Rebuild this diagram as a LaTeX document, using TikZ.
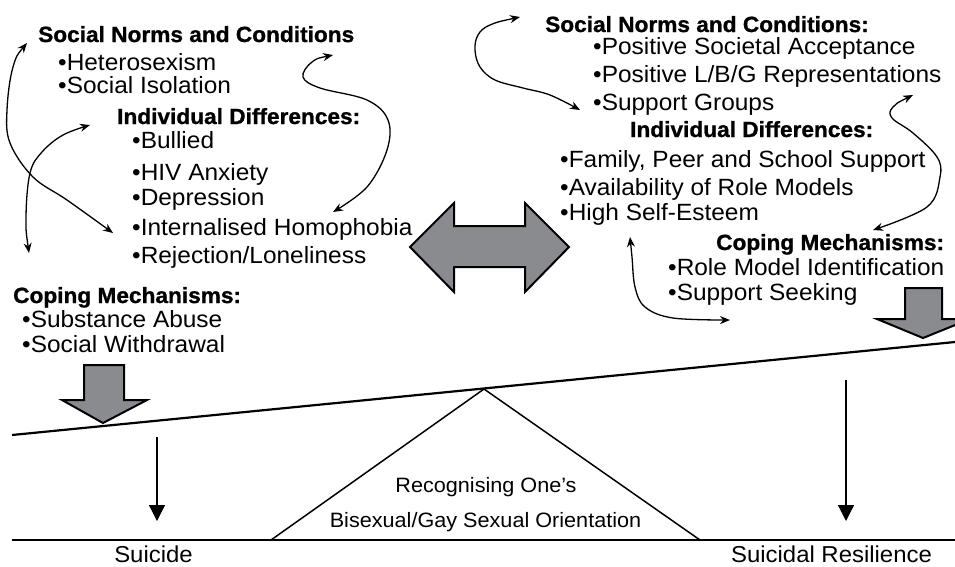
\documentclass[tikz,border=0pt]{standalone}
\usepackage{fontspec}
\setmainfont{Liberation Sans}
\newfontfamily\regf[FakeStretch=1.04]{Liberation Sans}
\newfontfamily\bldf[FakeStretch=1.03,FakeBold=1]{Liberation Sans Bold}
\newfontfamily\botf[FakeStretch=1.04]{Liberation Sans}
\usetikzlibrary{arrows.meta}
\definecolor{arrowgray}{RGB}{138,139,143}
\begin{document}
\begin{tikzpicture}[x=1pt,y=-1pt,
  reg/.style={anchor=base west,inner sep=0pt,font=\regf\fontsize{23.5}{26}\selectfont},
  hd/.style={anchor=base west,inner sep=0pt,font=\bldf\fontsize{22}{25}\selectfont},
  bot/.style={anchor=base,inner sep=0pt,font=\botf\fontsize{20.8}{24}\selectfont},
  lbl/.style={anchor=base,inner sep=0pt,font=\botf\fontsize{23}{26}\selectfont},
  link/.style={line width=1.3pt,{Stealth[length=10pt,width=8pt]}-{Stealth[length=10pt,width=8pt]}},
  fat/.style={draw=black,line width=2pt,fill=arrowgray,line join=miter},
  thin/.style={line width=1.2pt,-{Triangle[length=16pt,width=16pt]}}
  ]
\useasboundingbox (0,0) rectangle (955,566);
\fill[white] (0,0) rectangle (955,566);

% left column
\node[hd]  (lsn)  at (38,42)  {Social Norms and Conditions};
\node[reg] (lh)   at (58,70)  {•Heterosexism};
\node[reg] (lsi)  at (58,93)  {•Social Isolation};
\node[hd]  (lid)  at (117,124) {Individual Differences:};
\node[reg] (lb)   at (132,148) {•Bullied};
\node[reg] (lhiv) at (132,180) {•HIV Anxiety};
\node[reg] (ldep) at (132,205) {•Depression};
\node[reg] (lih)  at (132,235) {•Internalised Homophobia};
\node[reg] (lrl)  at (132,263) {•Rejection/Loneliness};
\node[hd]  (lcm)  at (13,303) {Coping Mechanisms:};
\node[reg] (lsa)  at (22,327) {•Substance Abuse};
\node[reg] (lsw)  at (22,352) {•Social Withdrawal};

% right column
\node[hd]  (rsn)  at (545,32)  {Social Norms and Conditions:};
\node[reg] (rpsa) at (593,54)  {•Positive Societal Acceptance};
\node[reg] (rpr)  at (593,82)  {•Positive L/B/G Representations};
\node[reg] (rsg)  at (593,110) {•Support Groups};
\node[hd]  (rid)  at (630,137) {Individual Differences:};
\node[reg] (rfp)  at (560,167) {•Family, Peer and School Support};
\node[reg] (rav)  at (560,195) {•Availability of Role Models};
\node[reg] (rhs)  at (560,220) {•High Self-Esteem};
\node[hd]  (rcm)  at (716,250) {Coping Mechanisms:};
\node[reg] (rrm)  at (668,275) {•Role Model Identification};
\node[reg] (rss)  at (668,300) {•Support Seeking};

% curved links
\coordinate (c1a) at (27,43);  \coordinate (c1b) at (113,233);
\draw[link] plot[smooth,tension=0.6] coordinates {(c1a) (13,67) (7,110) (10,143) (33,177) (67,200) (c1b)};
\coordinate (c2a) at (29,253); \coordinate (c2b) at (90,125);
\draw[link] plot[smooth,tension=0.6] coordinates {(c2a) (26,217) (30,173) (42,152) (63,135) (c2b)};
\coordinate (c3a) at (333,55); \coordinate (c3b) at (333,212);
\draw[link] plot[smooth,tension=0.6] coordinates {(c3a) (312,62) (303,77) (320,88) (367,100) (388,120) (387,150) (367,187) (c3b)};
\coordinate (c4a) at (520,17); \coordinate (c4b) at (580,110);
\draw[link] plot[smooth,tension=0.6] coordinates {(c4a) (490,25) (478,35) (475,50) (480,67) (495,80) (523,88) (550,95) (c4b)};
\coordinate (c5a) at (913,95); \coordinate (c5b) at (873,230);
\draw[link] plot[smooth,tension=0.6] coordinates {(c5a) (893,107) (892,118) (913,133) (937,157) (940,177) (927,207) (c5b)};
\coordinate (c6a) at (630,237); \coordinate (c6b) at (730,320);
\draw[link] plot[smooth,tension=0.6] coordinates {(c6a) (632,257) (635,287) (645,307) (673,318) (c6b)};

% central double arrow
\draw[fat] (410,247) -- (454,203) -- (454,226) -- (525,226) -- (525,203) -- (569,247)
  -- (525,292) -- (525,267) -- (454,267) -- (454,292) -- cycle;

% balance
\coordinate (bl) at (12,435); \coordinate (br) at (955,342);
\coordinate (apex) at (484,389);
\coordinate (tl) at (271,540); \coordinate (tr) at (700,540);
\coordinate (gl) at (12,540); \coordinate (gr) at (955,540);
\draw[line width=1.5pt,line join=miter] (tl) -- (apex) -- (tr);
\draw[line width=2.2pt] (gl) -- (gr);
\draw[line width=2.2pt] (bl) -- (br);

% fat down arrows
\draw[fat] (84,365) -- (124,365) -- (124,400) -- (147,400) -- (103,423) -- (62,400) -- (84,400) -- cycle;
\draw[fat] (905,288) -- (942,288) -- (942,319) -- (970,319) -- (923,338) -- (877,319) -- (905,319) -- cycle;

% thin down arrows
\coordinate (d1a) at (157,437); \coordinate (d1b) at (157,521);
\coordinate (d2a) at (846,380); \coordinate (d2b) at (846,521);
\draw[thin] (d1a) -- (d1b);
\draw[thin] (d2a) -- (d2b);

% bottom labels
\node[bot] (rec) at (486,492) {Recognising One’s};
\node[bot] (bis) at (485.5,527) {Bisexual/Gay Sexual Orientation};
\node[lbl] (sui) at (153.5,562) {Suicide};
\node[lbl] (res) at (831.5,562) {Suicidal Resilience};
\end{tikzpicture}
\end{document}
